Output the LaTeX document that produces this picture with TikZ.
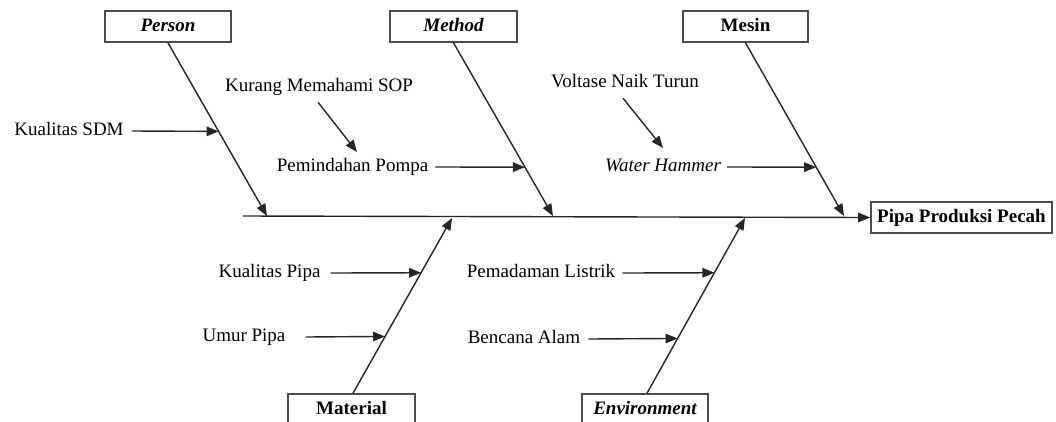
\documentclass[tikz,border=0pt]{standalone}
\usepackage{fontspec}
\setmainfont{Liberation Serif}[Ligatures=TeX]
\newfontfamily\labelfont{Liberation Serif}
\usetikzlibrary{arrows.meta,calc}
\begin{document}
\begin{tikzpicture}[x=1pt,y=-1pt,
  every node/.style={font=\labelfont\fontsize{19}{22}\selectfont, inner sep=0pt,
    text height=13pt, text depth=4pt},
  catbox/.style={draw=black!70, line width=1.6pt, fill=white,
    minimum height=31pt},
  bone/.style={draw=black!85, line width=1.4pt},
  tip/.style={-{Triangle[length=12pt,width=9.5pt]}},
]
\clip (0,0) rectangle (1056,421);

% category boxes
\node[catbox, minimum width=126pt, font=\labelfont\fontsize{19}{22}\selectfont\bfseries\itshape] (person) at (168,26.5) {Person};
\node[catbox, minimum width=127pt, font=\labelfont\fontsize{19}{22}\selectfont\bfseries\itshape] (method) at (453.5,26.5) {Method};
\node[catbox, minimum width=125pt, font=\labelfont\fontsize{19}{22}\selectfont\bfseries] (mesin) at (745.5,26.5) {Mesin};
\node[catbox, minimum width=127pt, font=\labelfont\fontsize{19}{22}\selectfont\bfseries] (material) at (351.5,409.5) {Material};
\node[catbox, minimum width=126pt, font=\labelfont\fontsize{19}{22}\selectfont\bfseries\itshape] (environment) at (645,409.5) {Environment};

% effect box
\node[catbox, minimum width=181pt, font=\labelfont\fontsize{19}{22}\selectfont\bfseries] (effect) at (961.5,217.5) {Pipa Produksi Pecah};

% spine
\coordinate (spineStart) at (243,216);
\draw[bone,tip] (spineStart) -- (effect.west);

% bone ends on the spine
\coordinate (personTip) at (267,216);
\coordinate (methodTip) at (553,216);
\coordinate (mesinTip) at (844,216);
\coordinate (materialTip) at (452,218);
\coordinate (environmentTip) at (745,218);

\draw[bone,tip] (person.south) -- (personTip);
\draw[bone,tip] (method.south) -- (methodTip);
\draw[bone,tip] (mesin.south) -- (mesinTip);
\draw[bone,tip] ([xshift=1.5pt]material.north) -- (materialTip);
\draw[bone,tip] ([xshift=2pt]environment.north) -- (environmentTip);

% points on the bones where the causes meet them
\coordinate (sdmOn) at ($(person.south)!0.5115!(personTip)$);
\coordinate (pindahOn) at ($(method.south)!0.718!(methodTip)$);
\coordinate (waterOn) at ($(mesin.south)!0.718!(mesinTip)$);
\coordinate (kpipaOn) at ($([xshift=1.5pt]material.north)!0.6875!(materialTip)$);
\coordinate (umurOn) at ($([xshift=1.5pt]material.north)!0.324!(materialTip)$);
\coordinate (padamOn) at ($([xshift=2pt]environment.north)!0.6875!(environmentTip)$);
\coordinate (bencanaOn) at ($([xshift=2pt]environment.north)!0.3125!(environmentTip)$);

% causes
\node (sdm) at (69,131) {Kualitas SDM};
\node (sop) at (319,87) {Kurang Memahami SOP};
\node (pindah) at (352.5,167) {Pemindahan Pompa};
\node (voltase) at (625,83) {Voltase Naik Turun};
\node[font=\labelfont\fontsize{19}{22}\selectfont\itshape] (water) at (663,167) {Water Hammer};
\node (kpipa) at (269.5,273) {Kualitas Pipa};
\node (umur) at (244,337) {Umur Pipa};
\node (padam) at (541,273) {Pemadaman Listrik};
\node (bencana) at (524,339) {Bencana Alam};

% cause arrows
\draw[bone,tip] ([xshift=8pt]sdm.east) -- (sdmOn);
\draw[bone,tip] ([xshift=7pt]pindah.east) -- (pindahOn);
\draw[bone,tip] ([xshift=6pt]water.east) -- (waterOn);
\draw[bone,tip] ([xshift=10pt]kpipa.east) -- (kpipaOn);
\draw[bone,tip] ([xshift=20pt]umur.east) -- (umurOn);
\draw[bone,tip] ([xshift=7pt]padam.east) -- (padamOn);
\draw[bone,tip] ([xshift=8pt]bencana.east) -- (bencanaOn);

% sub-cause arrows
\coordinate (sopTip) at (357,152);
\coordinate (voltaseTip) at (663,148);
\draw[bone,tip] ([xshift=-1pt,yshift=-6.5pt]sop.south) -- (sopTip);
\draw[bone,tip] ([xshift=-2pt,yshift=-6.5pt]voltase.south) -- (voltaseTip);
\end{tikzpicture}
\end{document}
